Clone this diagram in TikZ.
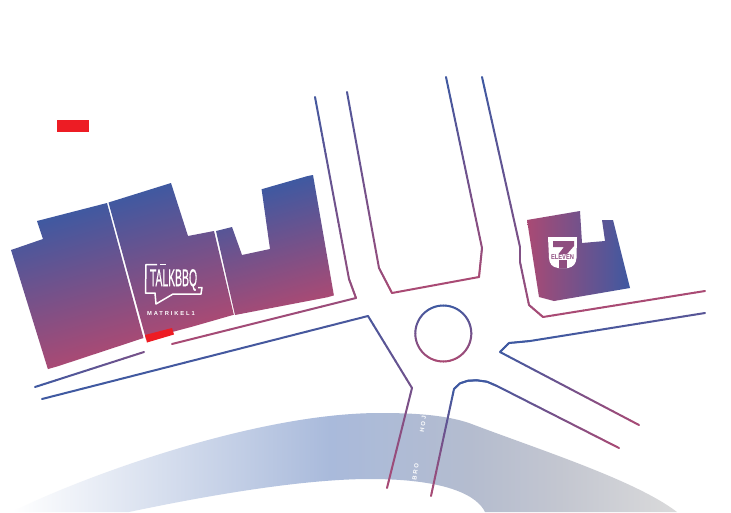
\documentclass[tikz,border=0pt]{standalone}
\usepackage{fontspec}
\setmainfont{Liberation Sans}
\definecolor{bluec}{HTML}{3F59A1}
\definecolor{pinkc}{HTML}{A94A74}
\definecolor{logoc}{HTML}{8F4E80}
\definecolor{redc}{HTML}{ED1C24}
\definecolor{banda}{RGB}{169,186,219}
\definecolor{bandb}{RGB}{180,188,207}
\definecolor{bandc}{RGB}{195,198,208}
\definecolor{bandd}{RGB}{218,218,219}
\pgfdeclarehorizontalshading{bandshade}{100bp}{
  color(0bp)=(white);
  color(25bp)=(white);
  color(48.9bp)=(banda);
  color(59.4bp)=(bandb);
  color(66.2bp)=(bandc);
  color(75bp)=(bandd);
  color(100bp)=(bandd)}
\tikzset{
  gline/.style={line width=2pt,line cap=round},
  logoline/.style={draw=white,line width=1.5pt,line join=round},
  redbar/.style={fill=redc,draw=none},
  roadtext/.style={text=white,font=\bfseries\fontsize{6}{6}\selectfont\addfontfeature{LetterSpace=30},inner sep=0pt}
}
% one stretch of a line, with a colour running from t=#5 to t=#6
\newcommand\gseg[6]{%
  \foreach \k in {1,...,16}{%
    \pgfmathsetmacro\xa{#1+(#3-#1)*(\k-1)/16}%
    \pgfmathsetmacro\ya{#2+(#4-#2)*(\k-1)/16}%
    \pgfmathsetmacro\xb{#1+(#3-#1)*\k/16}%
    \pgfmathsetmacro\yb{#2+(#4-#2)*\k/16}%
    \pgfmathtruncatemacro\mx{100*(#5+(#6-#5)*(\k-.5)/16)}%
    \draw[gline,color=pinkc!\mx!bluec] (\xa,\ya) -- (\xb,\yb);%
  }%
}
% polygon filled with a gradient across the direction of the buildings
\newcommand\bfill[3]{%
  \begin{scope}
    \clip #1;
    \begin{scope}[transform canvas={rotate around={16:(0,0)}}]
      \shade[top color=bluec,bottom color=pinkc] (-300,#2) rectangle (900,#3);
    \end{scope}
  \end{scope}
}
\begin{document}
\begin{tikzpicture}[x=1pt,y=-1pt]
\useasboundingbox (0,0) rectangle (731,512);
\fill[white] (0,0) rectangle (731,512);
% river band
\begin{scope}
  \clip (0,0) rectangle (731,512);
  \shade[shading=bandshade]
    (12,512) .. controls (70,482) and (250,413) .. (380,413)
    .. controls (415,413) and (445,415) .. (469,423)
    .. controls (540,450) and (635,480) .. (677,512)
    -- (485,512) .. controls (478,497) and (450,479) .. (370,479)
    .. controls (300,479) and (200,497) .. (129,512) -- cycle;
\end{scope}
\node[roadtext,rotate=82] (roadb) at (415.5,472) {BRO};
\node[roadtext,rotate=82] (roadh) at (423,424) {HOJ};
% buildings
\bfill{(11,250) -- (43,239) -- (37,221) -- (107,203) -- (143.5,338) -- (48,369.5) -- cycle}{222}{368}
\bfill{(108.5,202.5) -- (171,183) -- (188,236) -- (214,231) -- (234,315.5) -- (146,339) -- cycle}{222}{367}
\bfill{(216,231) -- (232,227) -- (242,255) -- (270,249) -- (261,185) -- (313,175) -- (334,296) -- (235,315) -- cycle}{254}{376}
\shade[left color=pinkc,right color=bluec] (527,220) -- (580,211) -- (582,243) -- (605,241) -- (602,220) -- (613,220) -- (630,288) -- (554,301) -- (539,297) -- cycle;
% red marks
\fill[redbar] (57,120) rectangle (89,132);
\fill[redbar] (145,335) -- (172,328) -- (174,334.5) -- (147,342.5) -- cycle;
% TalkBBQ logo
\draw[logoline] (157,264.5) -- (146,264.5) -- (145.5,293) -- (155,293) -- (156,304) -- (173,294) -- (201,294) -- (202,287.5) -- (198,287.5);
\draw[logoline] (160,264.5) -- (166,264.5);
\node[text=white,inner sep=0pt,font=\fontsize{10}{10}\selectfont\addfontfeature{FakeBold=0.8}] (talk) at (173.5,280) {\scalebox{1.04}[2.45]{TALKBBQ}};
\node[text=white,inner sep=0pt,font=\bfseries\fontsize{5.8}{5.8}\selectfont\addfontfeature{LetterSpace=32}] (matr) at (171,313) {MATRIKEL1};
% 7-Eleven logo
\fill[white] (548,237) -- (577,237) -- (576.5,258) .. controls (576,264) and (573,267) .. (568,268) -- (558,268) .. controls (552,267) and (549.5,264) .. (549,258) -- cycle;
\fill[logoc] (553,241) -- (574,241) -- (574,246) -- (567,254) -- (558.5,254) -- (564,247) -- (553,247) -- cycle;
\fill[logoc] (558.5,260) -- (567,260) -- (567,268) -- (558.5,268) -- cycle;
\node[text=logoc,inner sep=0pt,font=\bfseries\fontsize{7}{7}\selectfont] (elev) at (562.5,256.8) {\scalebox{.82}[1]{ELEVEN}};
% road lines
\gseg{315}{97}{349}{279}{.05}{.75}
\gseg{349}{279}{356}{298}{.75}{.85}
\gseg{356}{298}{172}{344}{.85}{1}
\gseg{144}{352}{35}{387}{.55}{0}
\gseg{42}{399}{368}{316}{0}{.1}
\gseg{368}{316}{412}{388}{.1}{.5}
\gseg{412}{388}{387}{488}{.5}{1}
\gseg{347}{92}{379}{268}{.15}{.8}
\gseg{379}{268}{392}{293}{.8}{1}
\gseg{392}{293}{479}{277}{1}{1}
\gseg{479}{277}{482}{248}{1}{.8}
\gseg{482}{248}{446}{77}{.8}{0}
\gseg{482}{77}{520}{247}{0}{.6}
\gseg{520}{247}{520}{262}{.6}{.65}
\gseg{520}{262}{529}{305}{.65}{.9}
\gseg{529}{305}{543}{317}{.9}{1}
\gseg{543}{317}{705}{291}{1}{1}
\gseg{705}{313}{530}{341}{.25}{0}
\gseg{530}{341}{509}{343}{0}{0}
\gseg{509}{343}{500}{352}{0}{0}
\gseg{500}{352}{639}{425}{0}{1}
\gseg{431}{496}{443}{440}{1}{.5}
\gseg{443}{440}{454}{389}{.5}{0}
\gseg{454}{389}{460}{383.3}{0}{0}
\gseg{460}{383.3}{468}{380.7}{0}{0}
\gseg{468}{380.7}{477}{380.3}{0}{0}
\gseg{477}{380.3}{487}{381.7}{0}{.02}
\gseg{487}{381.7}{497}{386}{.02}{.1}
\gseg{497}{386}{619}{448}{.1}{1}
% roundabout
\foreach \a in {0,5,...,355}{%
  \pgfmathsetmacro\xa{443.3+28*cos(\a)}%
  \pgfmathsetmacro\ya{333.5+28*sin(\a)}%
  \pgfmathsetmacro\xb{443.3+28*cos(\a+5)}%
  \pgfmathsetmacro\yb{333.5+28*sin(\a+5)}%
  \pgfmathtruncatemacro\mx{50+50*sin(\a+2.5)}%
  \draw[gline,color=pinkc!\mx!bluec] (\xa,\ya) -- (\xb,\yb);%
}
\end{tikzpicture}
\end{document}
